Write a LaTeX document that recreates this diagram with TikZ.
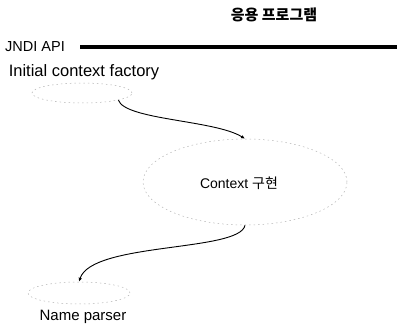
\documentclass[tikz,border=0pt]{standalone}
\usepackage{fontspec}
\setmainfont{Liberation Sans}
\setsansfont{Liberation Sans}
\newfontfamily\kr{Noto Sans CJK KR}
\usetikzlibrary{shapes.geometric,arrows.meta}
\begin{document}
\begin{tikzpicture}[x=1pt,y=-1pt,
  oval/.style={ellipse,draw=gray!60,line width=0.5pt,dash pattern=on 1.5pt off 3pt,inner sep=0pt},
  lbl/.style={font=\fontsize{14}{16}\selectfont,inner sep=0pt},
  conn/.style={line width=0.9pt,-{Latex[length=4pt,width=3.5pt]}}]
\useasboundingbox (0,0) rectangle (399,324);
\node[lbl,font=\fontsize{15}{16}\selectfont\kr\bfseries] (app) at (274,15) {응용 프로그램};
\node[lbl,anchor=west,font=\fontsize{14.5}{16}\selectfont] (api) at (5,47) {JNDI API};
\coordinate (l1) at (80,47);
\coordinate (l2) at (397,47);
\draw[line width=3.2pt] (l1) -- (l2);
\node[lbl,font=\fontsize{16.5}{18}\selectfont] (icft) at (84,72) {Initial context factory};
\node[oval,minimum width=100pt,minimum height=20pt] (icf) at (82,93) {};
\node[oval,minimum width=204pt,minimum height=86pt] (ctx) at (245,182) {};
\node[lbl] (ctxt) at (239,183) {Context {\kr 구현}};
\node[oval,minimum width=102pt,minimum height=22pt] (np) at (79,293) {};
\node[lbl,font=\fontsize{15}{16}\selectfont] (npt) at (83,317) {Name parser};
\draw[conn] (icf.-11) .. controls (125,120) and (215,120) .. (ctx.north);
\draw[conn] (ctx.south) .. controls (240,252) and (92,242) .. (np.north);
\end{tikzpicture}
\end{document}
